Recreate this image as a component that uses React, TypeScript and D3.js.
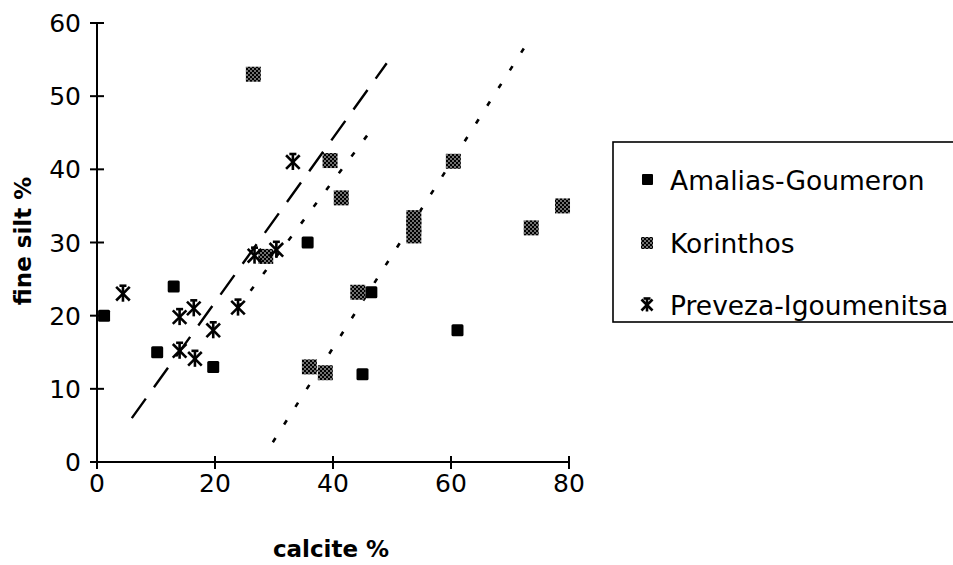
import React from "react";
import * as d3 from "d3";

// Sample groups: calcite % (x) vs fine silt % (y)
const amaliasCalcite = [1.2, 13.0, 10.2, 19.7, 35.7, 46.5, 45.0, 61.1];
const amaliasSilt = [20.0, 24.0, 15.0, 13.0, 30.0, 23.2, 12.0, 18.0];

const korinthosCalcite = [26.5, 39.5, 41.4, 60.4, 53.7, 53.7, 53.7, 73.6, 78.9, 36.0, 38.7, 44.2, 28.6];
const korinthosSilt = [53.0, 41.2, 36.1, 41.1, 33.4, 32.2, 30.9, 32.0, 35.0, 13.0, 12.2, 23.2, 28.1];

const prevezaCalcite = [4.4, 14.0, 16.4, 14.0, 16.6, 19.7, 23.9, 26.7, 30.4, 33.2];
const prevezaSilt = [23.0, 19.8, 21.0, 15.2, 14.1, 18.0, 21.1, 28.2, 29.0, 41.0];

// Trend lines (end points in data units)
const dashedLineX = [5.9, 49.1];
const dashedLineY = [6.0, 54.5];
const middleDottedX = [23.9, 46.7];
const middleDottedY = [21.1, 45.6];
const rightDottedX = [29.8, 72.4];
const rightDottedY = [2.7, 56.6];

const xTicks = [0, 20, 40, 60, 80];
const yTicks = [0, 10, 20, 30, 40, 50, 60];

const legendLabels = ["Amalias-Goumeron", "Korinthos", "Preveza-Igoumenitsa"];

const FONT = "'DejaVu Sans', sans-serif";

function Star({ x, y, s = 8 }: { x: number; y: number; s?: number }) {
  const d = 0.85 * s;
  return (
    <g stroke="#000" strokeWidth={2.6} strokeLinecap="butt">
      <line x1={x - d} y1={y - d} x2={x + d} y2={y + d} />
      <line x1={x - d} y1={y + d} x2={x + d} y2={y - d} />
      <line x1={x} y1={y - s} x2={x} y2={y + s} />
      <line x1={x - 3.5} y1={y - s} x2={x + 3.5} y2={y - s} />
    </g>
  );
}

export default function App() {
  const width = 953;
  const height = 565;

  const x = d3.scaleLinear().domain([0, 80]).range([97, 569]);
  const y = d3.scaleLinear().domain([0, 60]).range([462, 23]);

  const line = d3
    .line<[number, number]>()
    .x((d) => x(d[0]))
    .y((d) => y(d[1]));

  const pts = (xs: number[], ys: number[]) =>
    xs.map((v, i) => [v, ys[i]] as [number, number]);

  const legendY = [180, 243, 305];

  return (
    <svg
      width={width}
      height={height}
      style={{ position: "absolute", left: 0, top: 0, background: "#fff" }}
      fontFamily={FONT}
    >
      <defs>
        <pattern id="hatch" patternUnits="userSpaceOnUse" width={4} height={4}>
          <rect width={4} height={4} fill="#000" />
          <circle cx={1} cy={1} r={0.8} fill="#fff" />
          <circle cx={3} cy={3} r={0.8} fill="#fff" />
        </pattern>
      </defs>
      <rect width={width} height={height} fill="#fff" />

      {/* axes */}
      <g stroke="#000" strokeWidth={2}>
        <line x1={x(0)} y1={y(0)} x2={x(80)} y2={y(0)} />
        <line x1={x(0)} y1={y(0)} x2={x(0)} y2={y(60)} />
        {xTicks.map((t) => (
          <line key={"xt" + t} x1={x(t)} x2={x(t)} y1={y(0) - 6} y2={y(0) + 7} />
        ))}
        {yTicks.map((t) => (
          <line key={"yt" + t} x1={x(0) - 7} x2={x(0) + 7} y1={y(t)} y2={y(t)} />
        ))}
      </g>

      {xTicks.map((t) => (
        <text key={"xl" + t} x={x(t)} y={492} textAnchor="middle" fontSize={25} fill="#000">
          {t}
        </text>
      ))}
      {yTicks.map((t) => (
        <text
          key={"yl" + t}
          x={81}
          y={y(t) + 9}
          textAnchor="end"
          fontSize={25}
          fill="#000"
        >
          {t}
        </text>
      ))}

      <text x={331} y={557} textAnchor="middle" fontSize={23} fontWeight="bold" fill="#000">
        calcite %
      </text>
      <text
        transform={`translate(31,241) rotate(-90)`}
        textAnchor="middle"
        fontSize={23}
        fontWeight="bold"
        fill="#000"
      >
        fine silt %
      </text>

      {/* trend lines */}
      <path
        d={line(pts(dashedLineX, dashedLineY)) || ""}
        fill="none"
        stroke="#000"
        strokeWidth={2.4}
        strokeDasharray="24 14"
      />
      <path
        d={line(pts(middleDottedX, middleDottedY)) || ""}
        fill="none"
        stroke="#000"
        strokeWidth={2.6}
        strokeDasharray="5 16"
      />
      <path
        d={line(pts(rightDottedX, rightDottedY)) || ""}
        fill="none"
        stroke="#000"
        strokeWidth={2.6}
        strokeDasharray="5 16"
      />

      {/* Amalias-Goumeron */}
      {amaliasCalcite.map((v, i) => (
        <rect
          key={"a" + i}
          x={x(v) - 6}
          y={y(amaliasSilt[i]) - 6}
          width={12}
          height={12}
          rx={1.5}
          fill="#000"
        />
      ))}

      {/* Korinthos */}
      {korinthosCalcite.map((v, i) => (
        <rect
          key={"k" + i}
          x={x(v) - 7.5}
          y={y(korinthosSilt[i]) - 7.5}
          width={15}
          height={15}
          fill="url(#hatch)"
        />
      ))}

      {/* Preveza-Igoumenitsa */}
      {prevezaCalcite.map((v, i) => (
        <Star key={"p" + i} x={x(v)} y={y(prevezaSilt[i])} />
      ))}

      {/* legend */}
      <rect x={613} y={142} width={360} height={180} fill="none" stroke="#000" strokeWidth={1.6} />
      <rect x={642} y={legendY[0] - 6} width={11} height={11} rx={1} fill="#000" />
      <rect x={641} y={legendY[1] - 6} width={12} height={12} fill="url(#hatch)" />
      <Star x={647} y={legendY[2]} s={6.5} />
      {legendLabels.map((l, i) => (
        <text key={l} x={670} y={legendY[i] + 10} fontSize={26.5} fill="#000">
          {l}
        </text>
      ))}
    </svg>
  );
}
